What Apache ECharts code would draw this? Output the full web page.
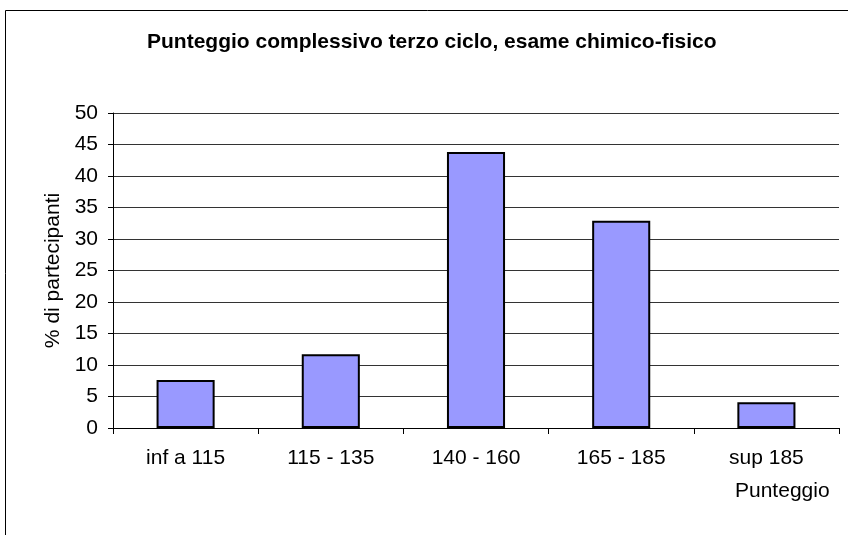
<!DOCTYPE html>
<html>
	<head>
		<meta charset="utf-8" />
		<title>Punteggio complessivo</title>
		<style type="text/css">
			html, body {margin:0;padding:0;background:#fff;}
			#chart {width:848px;height:535px;}
		</style>
	</head>
	<body>
		<div id="chart"></div>
		<script src="https://cdn.jsdelivr.net/npm/echarts@6/dist/echarts.min.js"></script>
		<script type="text/javascript">
			// dati
			const categories = ['inf a 115', '115 - 135', '140 - 160', '165 - 185', 'sup 185'];
			const percentuali = [7.6, 11.7, 43.8, 32.9, 4.1];
			const yTicks = [0, 5, 10, 15, 20, 25, 30, 35, 40, 45, 50];

			const font = 'Arial, "Liberation Sans", sans-serif';
			const chart = echarts.init(document.getElementById('chart'));
			const opt = {
				animation: false,
				title: {
					text: 'Punteggio complessivo terzo ciclo, esame chimico-fisico',
					left: 142,
					top: 27,
					textStyle: {fontFamily: font, fontSize: 21, fontWeight: 'bold', color: '#000'}
				},
				graphic: [{
					type: 'rect',
					shape: {x: 5.5, y: 10.5, width: 900, height: 600},
					style: {fill: 'none', stroke: '#000', lineWidth: 1},
					silent: true
				}, {
					type: 'text',
					left: 735,
					top: 481,
					style: {text: 'Punteggio', font: '21px ' + font, fill: '#000'}
				}],
				grid: {left: 113, right: 9, top: 113, bottom: 107},
				xAxis: {
					type: 'category',
					data: categories,
					axisLine: {lineStyle: {color: '#000', width: 1}},
					axisTick: {show: true, length: 6, lineStyle: {color: '#000'}},
					axisLabel: {margin: 20, color: '#000', fontFamily: font, fontSize: 21}
				},
				yAxis: {
					type: 'value',
					min: yTicks[0],
					max: yTicks[yTicks.length - 1],
					interval: yTicks[1] - yTicks[0],
					name: '% di partecipanti',
					nameLocation: 'middle',
					nameGap: 45,
					nameTextStyle: {fontFamily: font, fontSize: 21, color: '#000'},
					axisLine: {show: true, lineStyle: {color: '#000', width: 1}},
					axisTick: {show: true, length: 5, lineStyle: {color: '#000'}},
					axisLabel: {margin: 15, color: '#000', fontFamily: font, fontSize: 21},
					splitLine: {lineStyle: {color: '#333', width: 1}}
				},
				series: [{
					type: 'bar',
					barWidth: '40%',
					data: percentuali,
					itemStyle: {color: '#9999ff', borderColor: '#000', borderWidth: 2}
				}]
			};
			chart.setOption(opt);
		</script>
	</body>
</html>
